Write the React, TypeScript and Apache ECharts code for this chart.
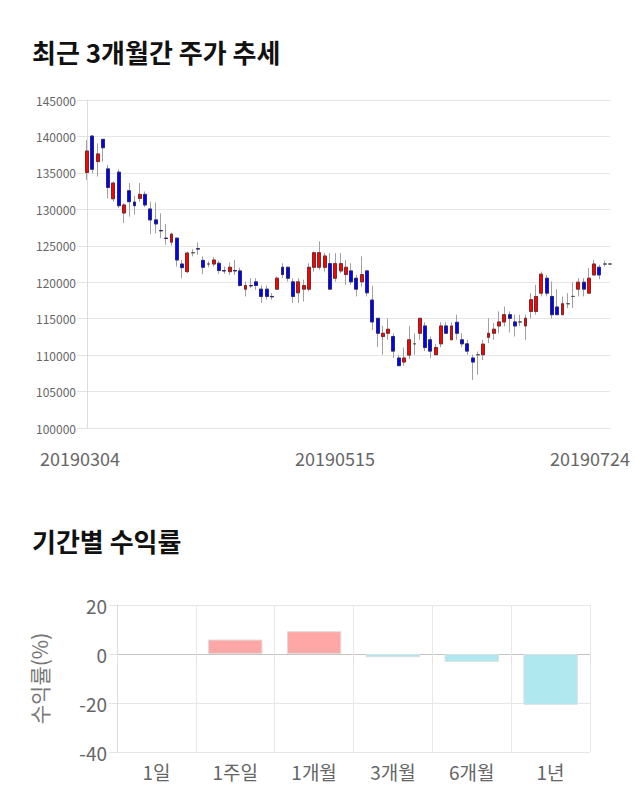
import React, { useEffect, useRef } from 'react';
import * as echarts from 'echarts';

const FONT = '"Noto Sans CJK KR", "Noto Sans", sans-serif';

// Trading days (KRX) 2019-03-04 .. 2019-07-24
const tradingDates = [
  '20190304','20190305','20190306','20190307','20190308','20190311','20190312','20190313','20190314','20190315',
  '20190318','20190319','20190320','20190321','20190322','20190325','20190326','20190327','20190328','20190329',
  '20190401','20190402','20190403','20190404','20190405','20190408','20190409','20190410','20190411','20190412',
  '20190415','20190416','20190417','20190418','20190419','20190422','20190423','20190424','20190425','20190426',
  '20190429','20190430','20190502','20190503','20190507','20190508','20190509','20190510','20190513','20190514',
  '20190515','20190516','20190517','20190520','20190521','20190522','20190523','20190524','20190527','20190528',
  '20190529','20190530','20190531','20190603','20190604','20190605','20190607','20190610','20190611','20190612',
  '20190613','20190614','20190617','20190618','20190619','20190620','20190621','20190624','20190625','20190626',
  '20190627','20190628','20190701','20190702','20190703','20190704','20190705','20190708','20190709','20190710',
  '20190711','20190712','20190715','20190716','20190717','20190718','20190719','20190722','20190723','20190724',
];

const openPrices = [
  135050,140050,136550,139600,135550,131450,135100,129500,132550,131000,
  131500,132050,130050,128550,127100,126050,125500,126050,122500,121450,
  124050,124600,123000,122500,122500,122600,121600,121450,121600,121550,
  119050,119550,120050,119050,119050,118050,119050,122050,122050,120050,
  118550,119050,119050,122050,122050,122050,122550,120550,121550,121050,
  121550,120550,120050,121550,117550,115050,112550,113000,112550,109600,
  109050,110000,111550,113000,114000,112100,110050,111550,114000,112100,
  114500,112100,111550,109600,110050,110050,112450,113000,114000,114550,
  115550,114550,114550,114000,116000,116000,118500,120550,118050,116600,
  115550,117050,118050,119050,120000,118500,121000,122050,122500,122500,
];

const closePrices = [
  138000,135500,137600,138450,133000,133600,130500,130600,131050,130500,
  132050,130600,128550,128000,127050,126000,126600,123050,122000,124000,
  124050,124550,122050,122500,123050,121600,121550,122050,121550,119550,
  119550,119500,119550,118050,118050,118000,120550,121050,120550,118050,
  120050,119550,122050,124050,124050,123600,119050,122550,122550,122050,
  120050,119050,121050,118550,114550,113000,113000,113550,110550,108550,
  109600,112100,111550,115050,111050,110550,111050,114000,113000,114000,
  113000,111550,110550,109050,110050,111500,113000,113550,114550,115550,
  115050,114000,114550,115050,117600,118050,121100,118500,115550,115550,
  117050,117050,118050,120000,119050,120550,122500,121000,122500,122500,
];

const lowPrices = [
  134050,134950,134500,136550,131500,131050,130150,128100,129000,129250,
  131050,130300,126600,126700,126050,125150,125000,122150,120550,121250,
  123550,123750,121100,122050,122150,121150,121150,121000,121000,119400,
  118050,119200,118950,117150,117600,117600,118950,120550,120100,117150,
  117150,117350,118750,121450,121700,121450,118950,120100,121250,119650,
  119650,118050,119400,118050,113450,111100,110050,112100,109600,108550,
  108550,109500,110050,112100,110550,109600,110050,111050,113000,112100,
  112100,111050,110050,106600,107300,109350,111650,112100,113000,113950,
  113100,112550,114000,112100,115050,115550,118050,118050,115050,115550,
  115550,116450,116450,118050,118050,118500,121000,120400,122150,122400,
];

const highPrices = [
  139500,140200,139050,139600,136100,133800,135500,130850,133600,131850,
  133600,132450,131050,130950,129450,128000,126800,126050,123050,124200,
  124550,125450,123550,122850,123450,122950,122150,122700,123050,122000,
  120100,120550,120550,119550,119550,118500,120800,122600,122150,120550,
  120550,120350,122600,124200,125600,124000,124000,124000,124000,123050,
  122600,121000,123550,121700,119500,115050,114000,115050,113000,110050,
  111050,114000,113000,115050,114500,112550,111550,114500,114500,114500,
  115550,113000,112100,110050,110500,112100,115050,114400,116000,116650,
  116000,115550,115550,115550,118500,119650,121450,121000,120100,119050,
  118050,118500,120000,120550,120550,121950,123050,122400,122950,122600,
];

const xTickLabels = ['20190304', '20190515', '20190724'];
const priceAxisMin = 100000;
const priceAxisMax = 145000;
const priceAxisStep = 5000;

const periods = ['1일', '1주일', '1개월', '3개월', '6개월', '1년'];
const periodReturns = [0, 5.9, 9.3, -1.3, -3.2, -20.7];
const returnAxisMin = -40;
const returnAxisMax = 20;
const returnAxisStep = 20;

export default function App() {
  const ref = useRef<HTMLDivElement>(null);

  useEffect(() => {
    document.body.style.margin = '0';
    const chart = echarts.init(ref.current as HTMLDivElement, null, { renderer: 'svg' });

    const fullCandles = openPrices.map((o, i) => [o, closePrices[i], lowPrices[i], highPrices[i]]);
    const bodyCandles = openPrices.map((o, i) => [o, closePrices[i], Math.min(o, closePrices[i]), Math.max(o, closePrices[i])]);

    const option: any = {
      animation: false,
      textStyle: { fontFamily: FONT },
      title: [
        {
          text: '최근 3개월간 주가 추세',
          left: 27,
          top: 33,
          textStyle: { fontSize: 26, fontWeight: 'bold', color: '#111', fontFamily: FONT },
        },
        {
          text: '기간별 수익률',
          left: 27,
          top: 522,
          textStyle: { fontSize: 26, fontWeight: 'bold', color: '#111', fontFamily: FONT },
        },
      ],
      grid: [
        { left: 87, top: 100, width: 523, height: 328 },
        { left: 80, top: 100, width: 510, height: 328 },
        { left: 117, top: 605, width: 473, height: 147 },
      ],
      xAxis: [
        {
          type: 'category',
          gridIndex: 0,
          data: tradingDates,
          boundaryGap: false,
          axisLine: { show: false },
          axisTick: { show: false },
          axisLabel: { show: false },
          splitLine: { show: false },
        },
        {
          type: 'category',
          gridIndex: 1,
          data: xTickLabels,
          boundaryGap: false,
          axisLine: { show: false },
          axisTick: { show: false },
          axisLabel: { color: '#666', fontSize: 18, margin: 21, fontFamily: FONT, interval: 0 },
          splitLine: { show: false },
        },
        {
          type: 'category',
          gridIndex: 2,
          data: periods,
          axisLine: { show: false },
          axisTick: { show: true, length: 10, lineStyle: { color: '#e3e3e3' } },
          axisLabel: { color: '#666', fontSize: 19, margin: 10, fontFamily: FONT },
          splitLine: { show: true, lineStyle: { color: '#e8e8e8' } },
        },
      ],
      yAxis: [
        {
          type: 'value',
          gridIndex: 0,
          min: priceAxisMin,
          max: priceAxisMax,
          interval: priceAxisStep,
          axisLine: { show: true, lineStyle: { color: '#dcdcdc' } },
          axisTick: { show: true, length: 10, lineStyle: { color: '#e3e3e3' } },
          axisLabel: {
            color: '#666',
            fontSize: 12,
            margin: 11,
            fontFamily: FONT,
            formatter: (v: number) => String(v),
          },
          splitLine: { show: true, lineStyle: { color: '#e6e6e6' } },
        },
        {
          type: 'value',
          gridIndex: 1,
          show: false,
        },
        {
          type: 'value',
          gridIndex: 2,
          min: returnAxisMin,
          max: returnAxisMax,
          interval: returnAxisStep,
          name: '수익률(%)',
          nameLocation: 'middle',
          nameRotate: 90,
          nameGap: 68,
          nameTextStyle: { color: '#777', fontSize: 21, fontFamily: FONT },
          axisLine: { show: true, lineStyle: { color: '#dcdcdc' } },
          axisTick: { show: true, length: 8, lineStyle: { color: '#e3e3e3' } },
          axisLabel: { color: '#666', fontSize: 19, margin: 10, fontFamily: FONT },
          splitLine: { show: true, lineStyle: { color: ['#e6e6e6', '#e6e6e6', '#c4c4c4', '#e6e6e6'] } },
        },
      ],
      series: [
        {
          type: 'candlestick',
          xAxisIndex: 0,
          yAxisIndex: 0,
          data: fullCandles,
          barWidth: 3.4,
          clip: true,
          silent: true,
          itemStyle: {
            color: '#a0a0a0',
            color0: '#a0a0a0',
            borderColor: '#a0a0a0',
            borderColor0: '#a0a0a0',
            borderColorDoji: '#a0a0a0',
            borderWidth: 1,
          },
        },
        {
          type: 'candlestick',
          xAxisIndex: 0,
          yAxisIndex: 0,
          data: bodyCandles,
          barWidth: 3.4,
          clip: true,
          silent: true,
          itemStyle: {
            color: '#ff0000',
            color0: '#0000ff',
            borderColor: '#7a2a2a',
            borderColor0: '#2a2a70',
            borderColorDoji: '#555555',
            borderWidth: 1,
          },
        },
        {
          type: 'bar',
          xAxisIndex: 2,
          yAxisIndex: 2,
          barWidth: '69%',
          silent: true,
          data: periodReturns.map((v) => ({
            value: v,
            itemStyle: v === 0
              ? { color: 'rgba(0,0,0,0)', borderWidth: 0 }
              : v > 0
                ? { color: '#ffa6a6', borderColor: '#dddddd', borderWidth: 1 }
                : { color: '#b0e8f0', borderColor: '#d6dfe2', borderWidth: 1 },
          })),
        },
      ],
    };

    chart.setOption(option);
    return () => chart.dispose();
  }, []);

  return <div ref={ref} style={{ width: 640, height: 810 }} />;
}
